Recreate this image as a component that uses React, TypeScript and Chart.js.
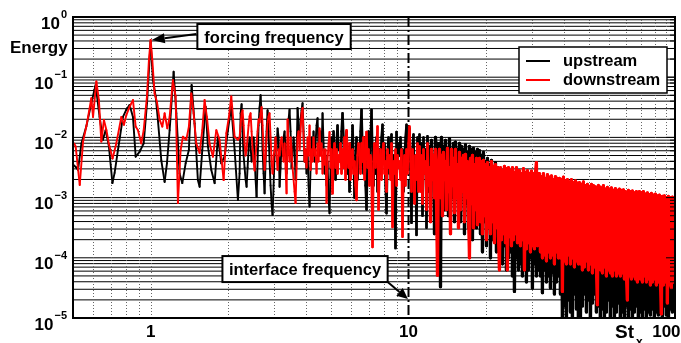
import { useEffect, useRef } from "react";
import { Chart, registerables } from "chart.js";

Chart.register(...registerables);

// ---------- DATA (log10 of energy) ----------
// Low-frequency part: explicit Strouhal numbers and log10(energy)
const upstreamLowFreq = [
  0.5, 0.512, 0.523, 0.539, 0.563, 0.589, 0.612, 0.634, 0.653, 0.669, 0.689, 0.711, 0.725, 0.747,
  0.781, 0.805, 0.829, 0.854, 0.875, 0.906, 0.94, 0.968, 1.0, 1.021, 1.046, 1.067, 1.1, 1.133,
  1.157, 1.185, 1.228, 1.258, 1.295, 1.327, 1.367, 1.407, 1.442, 1.481, 1.525, 1.549, 1.586,
  1.634, 1.668, 1.719, 1.771, 1.823, 1.879, 1.935, 1.994, 2.055, 2.117, 2.18,
];
const upstreamLowLogEnergy = [
  -2.45, -2.49, -2.54, -2.1, -1.82, -1.43, -1.13, -1.66, -2.04, -1.88, -2.15, -2.76, -2.59, -2.21,
  -1.66, -1.54, -1.46, -1.66, -2.32, -2.24, -2.1, -1.43, -0.41, -1.05, -1.32, -1.71, -2.38, -2.74,
  -2.43, -1.88, -0.91, -1.6, -2.6, -2.76, -2.43, -2.21, -1.13, -1.77, -2.71, -2.82, -2.21,
  -1.49, -2.15, -2.54, -2.76, -1.99, -2.43, -2.32, -1.88, -1.49, -2.21, -3.04,
];
const downstreamLowFreq = [
  0.505, 0.512, 0.531, 0.547, 0.563, 0.571, 0.589, 0.598, 0.616, 0.63, 0.644, 0.659, 0.674, 0.688,
  0.712, 0.736, 0.77, 0.788, 0.805, 0.829, 0.854, 0.875, 0.893, 0.92, 0.94, 0.968, 0.985, 1.0,
  1.015, 1.036, 1.058, 1.084, 1.11, 1.133, 1.161, 1.185, 1.22, 1.25, 1.276, 1.307, 1.334, 1.375,
  1.407, 1.438, 1.468, 1.503, 1.549, 1.586, 1.619, 1.652, 1.693, 1.744, 1.798, 1.851, 1.919,
  1.966, 2.012, 2.055, 2.117, 2.18,
];
const downstreamLowLogEnergy = [
  -2.1, -2.15, -2.79, -2.07, -1.82, -1.68, -1.35, -1.66, -1.07, -1.38, -2.07, -1.71, -1.88, -2.1,
  -2.35, -2.1, -1.66, -1.79, -1.63, -1.49, -1.38, -1.82, -1.88, -2.1, -1.88, -1.32, -0.71, -0.38,
  -0.71, -1.27, -1.41, -1.71, -1.82, -1.6, -1.85, -1.66, -1.05, -1.32, -3.09, -2.21, -1.99, -2.04,
  -1.82, -1.27, -1.6, -2.1, -2.26, -1.88, -1.38, -1.66, -2.1, -2.32, -1.88, -2.04, -2.71,
  -1.93, -1.66, -1.32, -1.99, -2.04,
];

// Dense part: spectrum resampled on a log grid from denseStartFreq to denseEndFreq
const denseStartFreq = 2.213;
const denseEndFreq = 107.4;
const upstreamDenseLogEnergy = [
  -2.6, -1.6, -1.45, -1.9, -2.3, -2.5, -2.7, -2.82, -2.5, -2.2, -2.0, -2.15, -2.4, -2.2, -2.0, -2.3, -2.7, -2.99, -2.4, -1.8,
  -1.5, -1.3, -1.6, -2.2, -2.6, -2.93, -2.4, -1.9, -1.55, -1.9, -2.4, -2.8, -3.1, -3.29, -2.8, -2.3, -2.0, -2.2, -1.85, -2.0,
  -2.82, -2.5, -2.1, -2.3, -2.0, -1.9, -2.2, -2.6, -2.1, -1.7, -1.54, -1.9, -2.5, -2.3, -2.0, -2.2, -2.7, -2.3, -1.51, -1.8,
  -2.0, -1.7, -1.55, -1.43, -1.9, -2.4, -2.2, -2.6, -2.2, -2.8, -3.15, -2.5, -2.0, -2.3, -1.9, -2.4, -2.1, -1.8, -1.68, -2.2,
  -2.3, -1.9, -2.2, -1.6, -2.1, -2.6, -2.3, -2.8, -2.4, -3.0, -3.26, -2.5, -2.0, -2.4, -1.9, -2.3, -2.7, -2.1, -1.8, -2.2,
  -2.1, -2.4, -1.9, -1.6, -2.0, -2.5, -2.2, -1.9, -2.6, -2.3, -2.9, -2.1, -2.5, -1.8, -2.3, -3.0, -2.4, -2.0, -2.7, -2.2,
  -2.3, -1.9, -1.54, -2.2, -2.6, -2.0, -2.8, -3.2, -2.4, -1.9, -2.5, -2.1, -1.54, -2.3, -2.8, -2.2, -2.6, -2.0, -2.9, -2.3,
  -2.2, -2.6, -2.0, -1.79, -2.4, -2.1, -2.8, -3.26, -2.3, -2.0, -2.6, -2.2, -1.95, -2.7, -2.3, -2.5, -3.84, -1.91, -2.4, -2.1,
  -2.3, -2.0, -2.6, -2.2, -2.9, -2.4, -2.0, -1.79, -2.5, -2.1, -1.85, -2.6, -3.42, -2.2, -1.95, -2.7, -2.3, -3.62, -2.0, -2.4,
  -1.95, -2.8, -2.1, -3.3, -2.0, -2.6, -2.2, -3.5, -1.98, -2.9, -2.15, -3.1, -2.05, -2.7, -2.3, -3.6, -2.0, -2.5, -2.1, -3.2,
  -2.1, -4.48, -2.0, -2.9, -2.15, -3.2, -2.05, -2.7, -2.2, -3.3, -2.02, -2.8, -2.3, -3.0, -2.1, -3.4, -2.08, -2.6, -2.2, -3.1,
  -2.1, -3.4, -2.15, -2.9, -2.2, -3.6, -2.12, -3.1, -2.25, -3.5, -2.15, -3.0, -2.2, -3.7, -2.18, -3.2, -2.25, -3.5, -2.2, -3.3,
  -2.22, -3.6, -2.3, -3.9, -2.25, -3.4, -2.4, -3.8, -2.35, -3.5, -2.45, -4.0, -2.38, -3.7, -2.5, -3.6, -2.42, -3.9, -2.5, -3.75,
  -2.6, -3.9, -2.7, -4.1, -2.65, -3.8, -2.75, -4.2, -2.7, -4.0, -2.8, -3.9, -2.7, -4.3, -2.75, -4.56, -2.8, -4.0, -2.7, -4.2,
  -2.8, -4.1, -2.85, -4.3, -2.8, -4.0, -2.9, -4.4, -2.85, -4.2, -2.9, -4.0, -2.8, -4.5, -2.9, -4.1, -2.85, -4.3, -2.9, -4.2,
  -2.95, -4.3, -3.0, -4.58, -2.95, -4.2, -3.0, -4.4, -3.05, -4.3, -3.0, -4.5, -3.0, -4.25, -3.05, -4.6, -3.0, -4.4, -3.1, -4.3,
  -3.1, -4.6, -3.1, -5.2, -3.15, -4.8, -3.1, -5.2, -3.2, -4.7, -3.15, -4.9, -3.2, -5.2, -3.15, -4.6, -3.2, -4.85, -3.2, -5.2,
  -3.25, -5.2, -3.2, -4.8, -3.3, -4.6, -3.25, -4.9, -3.3, -4.7, -3.3, -5.2, -3.35, -4.75, -3.3, -4.6, -3.35, -4.9, -3.4, -4.8,
  -3.4, -5.2, -3.45, -4.85, -3.4, -5.2, -3.5, -4.9, -3.45, -4.7, -3.5, -5.2, -3.5, -4.8, -3.55, -5.2, -3.5, -4.9, -3.55, -4.75,
  -3.55, -5.2, -3.6, -4.9, -3.6, -5.2, -3.65, -4.8, -3.6, -5.2, -3.65, -4.85, -3.7, -5.2, -3.65, -4.9, -3.7, -4.8, -3.7, -5.2,
  -3.7, -4.9, -3.75, -5.2, -3.7, -4.85, -3.8, -5.2, -3.75, -4.9, -3.8, -4.95, -3.8, -4.85, -3.85, -5.2, -3.8, -4.9, -3.85, -4.95,
  -3.85, -4.9, -3.9, -5.2, -3.85, -4.8, -3.9, -4.95, -3.9, -5.2, -3.95, -4.85, -3.9, -4.9, -3.95, -4.8,
];
const downstreamDenseLogEnergy = [
  -2.0, -1.8, -1.6, -1.55, -1.8, -2.1, -2.3, -2.2, -2.0, -1.8, -1.65, -1.6, -1.9, -2.2, -2.4, -2.55, -2.3, -2.1, -1.9, -1.7,
  -1.75, -1.6, -1.5, -1.8, -2.2, -2.54, -2.3, -2.0, -1.75, -1.65, -1.6, -2.0, -2.4, -2.6, -2.3, -2.2, -2.0, -2.3, -2.54, -2.2,
  -2.3, -2.1, -2.0, -2.2, -2.4, -2.1, -2.5, -2.93, -1.7, -2.2, -2.4, -2.0, -2.2, -2.5, -2.7, -2.9, -3.09, -2.5, -2.0, -1.9,
  -2.2, -1.9, -1.6, -1.51, -2.0, -2.4, -2.2, -2.5, -2.0, -2.3, -1.8, -2.54, -2.2, -2.4, -2.0, -2.3, -2.2, -2.6, -2.1, -2.4,
  -1.85, -2.3, -2.1, -2.6, -2.2, -2.45, -2.2, -3.09, -2.4, -2.1, -1.91, -2.5, -2.2, -2.93, -2.3, -2.1, -2.5, -2.2, -2.6, -2.3,
  -2.4, -2.1, -2.6, -2.2, -2.5, -2.0, -2.7, -1.88, -2.3, -2.5, -2.1, -2.7, -2.3, -2.2, -2.6, -2.4, -2.8, -3.04, -2.3, -2.1,
  -2.2, -2.6, -2.1, -2.4, -2.0, -2.7, -2.3, -1.91, -2.5, -2.2, -2.8, -2.3, -2.6, -3.82, -2.4, -2.1, -2.5, -2.2, -1.82, -3.2,
  -2.5, -2.2, -2.7, -2.3, -2.1, -2.6, -2.4, -2.9, -2.2, -2.5, -2.3, -2.7, -2.1, -3.49, -2.4, -2.6, -2.2, -2.8, -2.3, -2.5,
  -2.4, -2.7, -2.2, -3.65, -2.5, -2.3, -2.8, -2.2, -2.6, -2.1, -1.82, -2.4, -2.9, -2.2, -2.6, -3.1, -2.3, -2.7, -2.1, -2.9,
  -2.15, -2.9, -2.3, -3.1, -2.2, -2.6, -2.4, -3.2, -2.1, -2.8, -2.5, -3.4, -2.2, -2.7, -2.3, -3.0, -2.2, -3.1, -4.29, -2.4,
  -2.2, -3.0, -2.3, -3.3, -2.25, -2.7, -2.4, -3.2, -2.18, -2.9, -2.5, -3.6, -2.2, -2.8, -2.35, -3.25, -2.2, -3.0, -2.45, -3.5,
  -2.25, -3.2, -2.35, -2.9, -2.3, -3.4, -2.28, -3.0, -2.4, -3.3, -4.0, -2.35, -3.1, -2.3, -3.5, -2.45, -3.2, -2.35, -3.45, -2.4,
  -2.35, -3.4, -2.4, -3.6, -2.38, -3.3, -2.45, -3.7, -2.42, -3.5, -2.5, -3.6, -2.4, -3.4, -2.48, -3.75, -2.45, -3.5, -2.5, -3.65,
  -4.2, -2.5, -3.7, -2.55, -3.6, -2.48, -3.75, -2.52, -4.2, -2.5, -3.65, -2.55, -3.8, -2.5, -3.7, -2.58, -3.6, -2.5, -3.75, -2.55,
  -2.55, -3.8, -2.6, -3.7, -2.52, -4.2, -2.58, -3.85, -2.55, -3.75, -2.6, -3.9, -2.56, -3.8, -2.6, -3.85, -2.58, -2.42, -3.8, -2.6,
  -2.6, -3.9, -2.65, -4.0, -2.6, -3.95, -2.68, -4.05, -2.62, -3.9, -2.66, -4.0, -2.64, -3.95, -2.7, -4.1, -2.65, -3.9, -2.68, -4.0,
  -2.68, -4.0, -2.7, -4.56, -2.66, -4.05, -2.72, -4.1, -2.7, -3.95, -2.74, -4.1, -2.7, -4.0, -2.75, -4.15, -2.72, -4.05, -2.76, -4.1,
  -2.75, -4.1, -2.78, -4.2, -2.74, -4.15, -2.8, -4.05, -2.78, -4.2, -2.82, -4.1, -2.78, -4.25, -2.8, -4.15, -2.82, -4.2, -4.78, -2.8,
  -2.82, -4.2, -2.84, -4.25, -2.8, -4.15, -2.86, -4.3, -2.83, -4.2, -2.86, -4.25, -2.84, -4.3, -2.88, -4.2, -2.85, -4.3, -2.88, -4.25,
  -2.86, -4.3, -2.88, -4.25, -2.87, -4.35, -2.9, -4.3, -4.7, -2.88, -4.3, -2.9, -4.35, -2.89, -4.3, -2.92, -4.35, -2.9, -4.4, -2.92,
  -2.9, -4.35, -2.92, -4.4, -2.9, -4.3, -2.94, -4.4, -2.92, -4.35, -2.95, -4.45, -2.93, -4.4, -2.96, -4.35, -2.94, -4.45, -2.97, -4.4,
  -2.96, -4.4, -4.93, -2.98, -4.45, -2.97, -4.4, -3.0, -4.75, -2.98, -4.45, -3.0, -4.5, -2.99, -4.4, -3.0,
];

const seriesLabels = ["upstream", "downstream"];
const seriesColors = ["#000000", "#ff0000"];
const xTickValues = [1, 10, 100];
const yTickExponents = [0, -1, -2, -3, -4, -5];
const xMin = 0.5;
const xMax = 108;
const yMin = 1e-5;
const yMax = 1;
const forcingLabel = "forcing frequency";
const forcingPeak = { x: 1.01, y: 0.415 };
const forcingBoxCenter = { x: 3.01, y: 0.474 };
const interfaceLabel = "interface frequency";
const interfaceFrequency = 10;
const interfaceArrowTip = { x: 9.95, y: 2.07e-5 };
const interfaceBoxCenter = { x: 3.97, y: 6.5e-5 };
const yTitle = "Energy";
const xTitle = "St";
const xTitleSub = "x";

const FONT = "'Liberation Sans', Arial, Helvetica, sans-serif";

function buildSeries(lowF: number[], lowLog: number[], dense: number[]) {
  const pts: { x: number; y: number }[] = lowF.map((f, i) => ({ x: f, y: Math.pow(10, lowLog[i]) }));
  const n = dense.length;
  const ratio = denseEndFreq / denseStartFreq;
  dense.forEach((v, i) => {
    pts.push({ x: denseStartFreq * Math.pow(ratio, i / (n - 1)), y: Math.pow(10, v) });
  });
  return pts;
}

function drawArrow(ctx: CanvasRenderingContext2D, x1: number, y1: number, x2: number, y2: number, headLen: number, headHalf: number) {
  const ang = Math.atan2(y2 - y1, x2 - x1);
  const bx = x2 - headLen * Math.cos(ang);
  const by = y2 - headLen * Math.sin(ang);
  ctx.beginPath();
  ctx.moveTo(x1, y1);
  ctx.lineTo(bx, by);
  ctx.stroke();
  ctx.beginPath();
  ctx.moveTo(x2, y2);
  ctx.lineTo(bx + headHalf * Math.sin(ang), by - headHalf * Math.cos(ang));
  ctx.lineTo(bx - headHalf * Math.sin(ang), by + headHalf * Math.cos(ang));
  ctx.closePath();
  ctx.fill();
}

function drawLabelBox(ctx: CanvasRenderingContext2D, text: string, cx: number, cy: number, padX: number, h: number) {
  ctx.font = `bold 16.5px ${FONT}`;
  const w = ctx.measureText(text).width + 2 * padX;
  const left = cx - w / 2;
  const top = cy - h / 2;
  ctx.fillStyle = "#fff";
  ctx.fillRect(left, top, w, h);
  ctx.lineWidth = 2;
  ctx.strokeStyle = "#000";
  ctx.strokeRect(left, top, w, h);
  ctx.fillStyle = "#000";
  ctx.textAlign = "center";
  ctx.textBaseline = "alphabetic";
  ctx.fillText(text, cx, top + h / 2 + 6);
  return { left, top, right: left + w, bottom: top + h };
}

const framePlugin = {
  id: "framePlugin",
  beforeDatasetsDraw(chart: any) {
    const { ctx, chartArea: a, scales } = chart;
    const x = scales.x;
    const y = scales.y;
    ctx.save();
    // horizontal solid grid lines at every decade sub-division
    ctx.strokeStyle = "#000";
    ctx.lineWidth = 1;
    for (let e = -5; e < 0; e++) {
      for (let m = 1; m <= 9; m++) {
        const py = y.getPixelForValue(m * Math.pow(10, e));
        if (py <= a.top + 1 || py >= a.bottom - 1) continue;
        ctx.beginPath();
        ctx.moveTo(a.left, py);
        ctx.lineTo(a.right, py);
        ctx.stroke();
      }
    }
    // vertical dotted grid lines
    ctx.strokeStyle = "#666";
    ctx.setLineDash([1, 2]);
    for (let e = -1; e <= 2; e++) {
      for (let m = 1; m <= 9; m++) {
        const v = m * Math.pow(10, e);
        if (v <= xMin || v >= xMax || v === interfaceFrequency) continue;
        const px = Math.round(x.getPixelForValue(v)) + 0.5;
        ctx.beginPath();
        ctx.moveTo(px, a.top);
        ctx.lineTo(px, a.bottom);
        ctx.stroke();
      }
    }
    // interface frequency dash-dot line
    ctx.strokeStyle = "#000";
    ctx.lineWidth = 2;
    ctx.setLineDash([10, 3, 2, 3]);
    const ix = x.getPixelForValue(interfaceFrequency);
    ctx.beginPath();
    ctx.moveTo(ix, a.top);
    ctx.lineTo(ix, a.bottom);
    ctx.stroke();
    ctx.restore();
  },
  afterDatasetsDraw(chart: any) {
    const { ctx, chartArea: a, scales } = chart;
    const x = scales.x;
    const y = scales.y;
    ctx.save();
    // right-side inward ticks
    ctx.strokeStyle = "#000";
    ctx.lineWidth = 1;
    for (let e = -5; e < 0; e++) {
      for (let m = 1; m <= 9; m++) {
        const py = y.getPixelForValue(m * Math.pow(10, e));
        const len = m === 1 ? 9 : 5;
        ctx.beginPath();
        ctx.moveTo(a.right, py);
        ctx.lineTo(a.right - len, py);
        ctx.stroke();
      }
    }
    // frame
    ctx.lineWidth = 2;
    ctx.strokeRect(a.left, a.top, a.right - a.left, a.bottom - a.top);

    // y tick labels 10^k
    ctx.fillStyle = "#000";
    ctx.textBaseline = "alphabetic";
    ctx.textAlign = "right";
    const labelRight = a.left - 6;
    for (const e of yTickExponents) {
      const py = y.getPixelForValue(Math.pow(10, e));
      const expText = e === 0 ? "0" : "\u2212" + Math.abs(e);
      ctx.font = `bold 11px ${FONT}`;
      const ew = ctx.measureText(expText).width;
      ctx.fillText(expText, labelRight, py + 1);
      ctx.font = `bold 17px ${FONT}`;
      ctx.fillText("10", labelRight - ew - 1, py + 11.5);
    }
    // x tick labels
    ctx.textAlign = "center";
    ctx.font = `bold 17px ${FONT}`;
    for (const v of xTickValues) {
      ctx.fillText(String(v), x.getPixelForValue(v), a.bottom + 19);
    }
    // axis titles
    ctx.textAlign = "left";
    ctx.font = `bold 17px ${FONT}`;
    ctx.fillText(yTitle, 10, a.top + 36);
    ctx.font = `bold 19px ${FONT}`;
    ctx.fillText(xTitle, 615, a.bottom + 20);
    ctx.font = `bold 12px ${FONT}`;
    ctx.fillText(xTitleSub, 636, a.bottom + 28);

    // annotations
    ctx.strokeStyle = "#000";
    ctx.fillStyle = "#000";
    const fb = drawLabelBox(ctx, forcingLabel, x.getPixelForValue(forcingBoxCenter.x), y.getPixelForValue(forcingBoxCenter.y), 7, 25);
    ctx.lineWidth = 2;
    ctx.fillStyle = "#000";
    drawArrow(ctx, fb.left - 1, (fb.top + fb.bottom) / 2 - 2.5, x.getPixelForValue(forcingPeak.x), y.getPixelForValue(forcingPeak.y), 13, 5);
    const ib = drawLabelBox(ctx, interfaceLabel, x.getPixelForValue(interfaceBoxCenter.x), y.getPixelForValue(interfaceBoxCenter.y), 6.5, 26);
    ctx.lineWidth = 2;
    ctx.fillStyle = "#000";
    drawArrow(ctx, ib.right, ib.bottom, x.getPixelForValue(interfaceArrowTip.x), y.getPixelForValue(interfaceArrowTip.y), 11, 5);

    // legend
    const lw = 148;
    const lh = 46;
    const lLeft = a.right - 8 - lw;
    const lTop = a.top + 30;
    ctx.fillStyle = "#fff";
    ctx.fillRect(lLeft, lTop, lw, lh);
    ctx.lineWidth = 1.5;
    ctx.strokeStyle = "#000";
    ctx.strokeRect(lLeft, lTop, lw, lh);
    ctx.font = `bold 16.5px ${FONT}`;
    ctx.textAlign = "left";
    seriesLabels.forEach((label, i) => {
      const ly = lTop + 14 + i * 19;
      ctx.strokeStyle = seriesColors[i];
      ctx.lineWidth = 2;
      ctx.beginPath();
      ctx.moveTo(lLeft + 7, ly);
      ctx.lineTo(lLeft + 31, ly);
      ctx.stroke();
      ctx.fillStyle = "#000";
      ctx.fillText(label, lLeft + 44, ly + 5);
    });
    ctx.restore();
  },
};

export default function App() {
  const canvasRef = useRef<HTMLCanvasElement>(null);

  useEffect(() => {
    const canvas = canvasRef.current;
    if (!canvas) return;
    const upstream = buildSeries(upstreamLowFreq, upstreamLowLogEnergy, upstreamDenseLogEnergy);
    const downstream = buildSeries(downstreamLowFreq, downstreamLowLogEnergy, downstreamDenseLogEnergy);
    const lineStyle = {
      borderWidth: 1.9,
      borderJoinStyle: "round",
      borderCapStyle: "round",
      pointRadius: 0,
      tension: 0,
      clip: 0,
      // the very dense high-frequency part is drawn a little heavier so it reads as a band
      segment: {
        borderWidth: (c: any) => {
          const f = c.p0 && c.p0.parsed ? c.p0.parsed.x : 0;
          const base = f > 12 ? 3.2 : f > 5 ? 2.4 : 1.9;
          return c.p0DataIndex % 2 === 0 ? base : base + 0.01;
        },
      },
    };
    const chart = new Chart(canvas, {
      type: "line",
      data: {
        datasets: [
          { label: seriesLabels[0], data: upstream, borderColor: seriesColors[0], order: 1, ...lineStyle },
          { label: seriesLabels[1], data: downstream, borderColor: seriesColors[1], order: 0, ...lineStyle },
        ],
      },
      options: {
        animation: false,
        responsive: false,
        maintainAspectRatio: false,
        devicePixelRatio: 1,
        events: [],
        layout: { padding: { left: 73, top: 17, right: 6, bottom: 25 } },
        plugins: { legend: { display: false }, tooltip: { enabled: false } },
        scales: {
          x: { type: "logarithmic", min: xMin, max: xMax, display: false },
          y: { type: "logarithmic", min: yMin, max: yMax, display: false },
        },
      },
      plugins: [framePlugin],
    } as any);
    return () => chart.destroy();
  }, []);

  return (
    <div style={{ position: "fixed", left: 0, top: 0, width: 681, height: 343, background: "#fff" }}>
      <canvas ref={canvasRef} width={681} height={343} style={{ display: "block", width: 681, height: 343 }} />
    </div>
  );
}
